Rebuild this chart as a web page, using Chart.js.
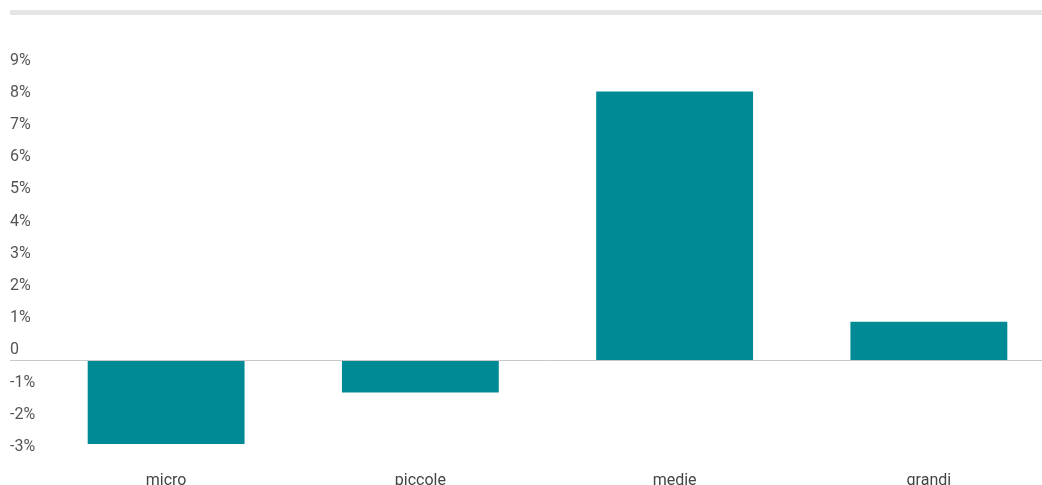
<!DOCTYPE html>
<html>
<head>
<meta charset="utf-8">
<script src="https://cdn.jsdelivr.net/npm/chart.js@4/dist/chart.umd.min.js"></script>
<style>
  html, body { margin: 0; padding: 0; background: #fff; overflow: hidden; }
  #wrap { position: relative; width: 1056px; height: 485px; }
  #band { position: absolute; left: 10px; top: 10px; width: 1032px; height: 5px; background: #e6e6e6; }
  #box { position: absolute; left: 0; top: 0; width: 1056px; height: 485px; }
</style>
</head>
<body>
<div id="wrap">
  <div id="band"></div>
  <div id="box"><canvas id="chart"></canvas></div>
</div>
<script>
// dati
const categorie = ['micro', 'piccole', 'medie', 'grandi'];
const valori = [-2.6, -1.0, 8.35, 1.2];
const yMin = -3, yMax = 9;

const colore = '#008a96';

const ctx = document.getElementById('chart').getContext('2d');
const chart = new Chart(ctx, {
    type: 'bar',
    data: {
        labels: categorie,
        datasets: [{ data: valori, backgroundColor: colore, borderWidth: 0, barPercentage: 0.617, categoryPercentage: 1 }]
    },
    options: {
        responsive: true, maintainAspectRatio: false, animation: false,
        layout: { padding: { left: 10, top: 70.5, right: 0, bottom: 0 } },
        plugins: { legend: { display: false }, tooltip: { enabled: false } },
        scales: {
            x: {
                afterFit: (s) => { s.height = 28; },
                grid: { display: false, drawTicks: false },
                border: { display: false },
                ticks: { color: '#444', font: { family: 'Roboto', size: 16 }, padding: 14, maxRotation: 0 }
            },
            y: {
                min: yMin, max: yMax,
                afterFit: (s) => { s.width = 29; },
                border: { display: false },
                grid: {
                    drawTicks: true, tickLength: 29,
                    color: (c) => c.tick && c.tick.value === 0 ? '#c8c8c8' : 'rgba(0,0,0,0)',
                    lineWidth: 1
                },
                ticks: {
                    stepSize: 1, crossAlign: 'far', padding: 0, labelOffset: -10,
                    color: '#555', font: { family: 'Roboto', size: 16 },
                    callback: (v) => v === 0 ? '0' : v + '%'
                }
            }
        }
    }
});
</script>
</body>
</html>
